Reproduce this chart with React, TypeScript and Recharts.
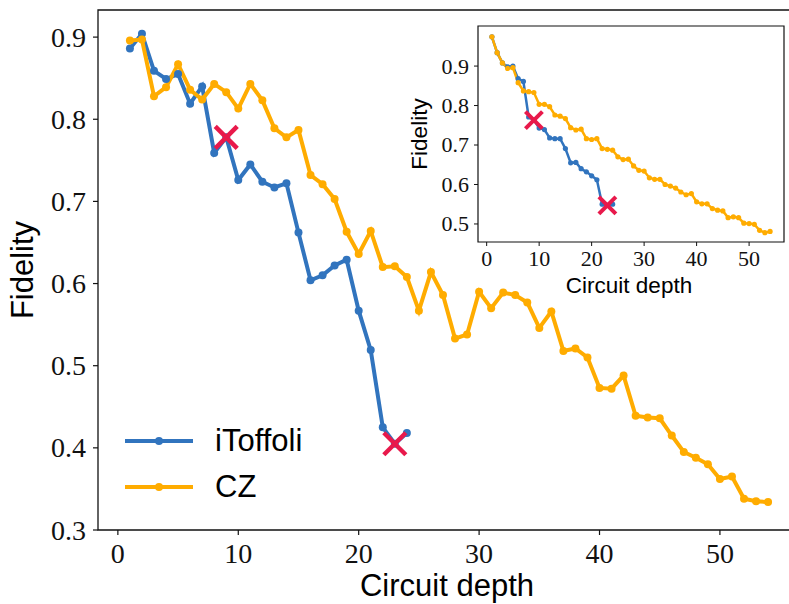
import { ComposedChart, Line, Scatter, XAxis, YAxis, ReferenceArea } from "recharts";

// circuit depth on the x axis
const depth = [
  1, 2, 3, 4, 5, 6, 7, 8, 9, 10, 11, 12, 13, 14, 15, 16, 17, 18, 19, 20,
  21, 22, 23, 24, 25, 26, 27, 28, 29, 30, 31, 32, 33, 34, 35, 36, 37, 38, 39, 40,
  41, 42, 43, 44, 45, 46, 47, 48, 49, 50, 51, 52, 53, 54,
];

// measured fidelity (hardware)
const itoffoliHw = [
  0.886, 0.904, 0.859, 0.849, 0.855, 0.819, 0.84, 0.759, 0.778, 0.726,
  0.745, 0.724, 0.717, 0.722, 0.662, 0.604, 0.61, 0.622, 0.629, 0.567,
  0.519, 0.425, 0.405, 0.418,
];
const czHw = [
  0.896, 0.897, 0.828, 0.839, 0.867, 0.836, 0.824, 0.843, 0.833, 0.813,
  0.843, 0.823, 0.789, 0.778, 0.787, 0.732, 0.721, 0.703, 0.663, 0.636,
  0.664, 0.62, 0.621, 0.608, 0.567, 0.614, 0.586, 0.533, 0.538, 0.59,
  0.57, 0.589, 0.586, 0.577, 0.546, 0.566, 0.518, 0.521, 0.51, 0.473,
  0.472, 0.488, 0.439, 0.437, 0.436, 0.415, 0.395, 0.388, 0.38, 0.362,
  0.365, 0.338, 0.335, 0.334,
];

// classical simulation
const itoffoliSim = [
  0.974, 0.934, 0.908, 0.898, 0.9, 0.868, 0.861, 0.771, 0.763, 0.743,
  0.739, 0.718, 0.716, 0.716, 0.691, 0.655, 0.656, 0.64, 0.632, 0.622,
  0.612, 0.55, 0.547, 0.55,
];
const czSim = [
  0.974, 0.934, 0.908, 0.894, 0.896, 0.858, 0.837, 0.835, 0.833, 0.803,
  0.803, 0.797, 0.776, 0.773, 0.767, 0.744, 0.738, 0.74, 0.716, 0.714,
  0.716, 0.691, 0.689, 0.687, 0.67, 0.663, 0.664, 0.647, 0.636, 0.634,
  0.617, 0.613, 0.613, 0.6, 0.596, 0.591, 0.581, 0.574, 0.577, 0.556,
  0.551, 0.551, 0.539, 0.535, 0.533, 0.516, 0.518, 0.516, 0.502, 0.501,
  0.499, 0.484, 0.478, 0.481,
];

// crossover markers
const markDepth = [9, 23];
const markHw = [0.778, 0.405];
const markSim = [0.763, 0.547];

const seriesNames = ["iToffoli", "CZ"];
const xTicks = [0, 10, 20, 30, 40, 50];
const yTicksMain = [0.3, 0.4, 0.5, 0.6, 0.7, 0.8, 0.9];
const yTicksInset = [0.5, 0.6, 0.7, 0.8, 0.9];

const BLUE = "#3174be";
const ORANGE = "#ffac00";
const RED = "#e8194b";
const SERIF = "Liberation Serif";
const SANS = "Liberation Sans";

const X_DOMAIN: [number, number] = [-1.65, 56.65];
const MAIN_Y: [number, number] = [0.3, 0.933];
const INSET_Y: [number, number] = [0.4543, 1.0015];

const hwRows = depth.map((d, i) => ({ depth: d, itoffoli: itoffoliHw[i] ?? null, cz: czHw[i] }));
const simRows = depth.map((d, i) => ({ depth: d, itoffoli: itoffoliSim[i] ?? null, cz: czSim[i] }));
const hwMarks = markDepth.map((d, i) => ({ depth: d, fidelity: markHw[i] }));
const simMarks = markDepth.map((d, i) => ({ depth: d, fidelity: markSim[i] }));

const cross = (half: number, w: number) => (props: any) => {
  const { cx, cy } = props;
  return (
    <g stroke={RED} strokeWidth={w}>
      <line x1={cx - half} y1={cy - half} x2={cx + half} y2={cy + half} />
      <line x1={cx - half} y1={cy + half} x2={cx + half} y2={cy - half} />
    </g>
  );
};

// serif tick text, drawn by hand so the font sticks
const serifTick = (size: number, axis: "x" | "y") => (props: any) => {
  const { x, y, textAnchor, payload } = props;
  const v = payload.value as number;
  const label = axis === "y" ? v.toFixed(1) : String(v);
  return (
    <text
      x={x}
      y={y}
      dy={axis === "x" ? "0.71em" : "0.34em"}
      textAnchor={textAnchor}
      fontFamily={SERIF}
      fontSize={size}
      fill="#111"
    >
      {label}
    </text>
  );
};

function MainChart() {
  return (
    <ComposedChart width={810} height={604} data={hwRows} margin={{ top: 10, right: 10, left: 0, bottom: 0 }}>
      <ReferenceArea x1={X_DOMAIN[0]} x2={X_DOMAIN[1]} y1={MAIN_Y[0]} y2={MAIN_Y[1]} fill="none" stroke="#111" strokeWidth={1.3} ifOverflow="visible" />
      <XAxis
        dataKey="depth"
        type="number"
        domain={X_DOMAIN}
        ticks={xTicks}
        allowDataOverflow
        height={74}
        tickSize={5}
        tickMargin={8}
        axisLine={false}
        tickLine={{ stroke: "#111", strokeWidth: 1.2 }}
        tick={serifTick(28, "x")}
        label={{
          value: "Circuit depth",
          content: () => (
            <text x={447} y={596} textAnchor="middle" fontFamily={SANS} fontSize={31} fill="#000">
              Circuit depth
            </text>
          ),
        }}
      />
      <YAxis
        type="number"
        domain={MAIN_Y}
        ticks={yTicksMain}
        allowDataOverflow
        width={98}
        tickSize={5}
        tickMargin={7}
        axisLine={false}
        tickLine={{ stroke: "#111", strokeWidth: 1.2 }}
        tick={serifTick(28, "y")}
        label={{
          value: "Fidelity",
          content: () => (
            <text x={33} y={270} transform="rotate(-90 33 270)" textAnchor="middle" fontFamily={SANS} fontSize={31} fill="#000">
              Fidelity
            </text>
          ),
        }}
      />
      <Line dataKey="itoffoli" stroke={BLUE} strokeWidth={4} dot={{ r: 4, fill: BLUE, stroke: "none" }} isAnimationActive={false} />
      <Line dataKey="cz" stroke={ORANGE} strokeWidth={4} dot={{ r: 4, fill: ORANGE, stroke: "none" }} isAnimationActive={false} />
      <Scatter data={hwMarks} dataKey="fidelity" shape={cross(11, 4.5)} isAnimationActive={false} />
    </ComposedChart>
  );
}

function InsetChart() {
  return (
    <ComposedChart width={394} height={300} data={simRows} margin={{ top: 26, right: 10, left: 0, bottom: 0 }}>
      <ReferenceArea x1={X_DOMAIN[0]} x2={X_DOMAIN[1]} y1={INSET_Y[0]} y2={INSET_Y[1]} fill="#fff" fillOpacity={1} stroke="#111" strokeWidth={1.2} ifOverflow="visible" />
      <XAxis
        dataKey="depth"
        type="number"
        domain={X_DOMAIN}
        ticks={xTicks}
        allowDataOverflow
        height={58}
        tickSize={4}
        tickMargin={4}
        axisLine={false}
        tickLine={{ stroke: "#111", strokeWidth: 1 }}
        tick={serifTick(22, "x")}
        label={{
          value: "Circuit depth",
          content: () => (
            <text x={229} y={293} textAnchor="middle" fontFamily={SANS} fontSize={22.5} fill="#000">
              Circuit depth
            </text>
          ),
        }}
      />
      <YAxis
        type="number"
        domain={INSET_Y}
        ticks={yTicksInset}
        allowDataOverflow
        width={78}
        tickSize={4}
        tickMargin={5}
        axisLine={false}
        tickLine={{ stroke: "#111", strokeWidth: 1 }}
        tick={serifTick(22, "y")}
        label={{
          value: "Fidelity",
          content: () => (
            <text x={27} y={134} transform="rotate(-90 27 134)" textAnchor="middle" fontFamily={SANS} fontSize={22.5} fill="#000">
              Fidelity
            </text>
          ),
        }}
      />
      <Line dataKey="itoffoli" stroke={BLUE} strokeWidth={2.5} dot={{ r: 2.6, fill: BLUE, stroke: "none" }} isAnimationActive={false} />
      <Line dataKey="cz" stroke={ORANGE} strokeWidth={2.5} dot={{ r: 2.6, fill: ORANGE, stroke: "none" }} isAnimationActive={false} />
      <Scatter data={simMarks} dataKey="fidelity" shape={cross(8.5, 4)} isAnimationActive={false} />
      <text x={373} y={54} textAnchor="end" fontFamily={SANS} fontSize={23.5} fill="#000">
        Classical simulation
      </text>
    </ComposedChart>
  );
}

function LegendBox() {
  const colors = [BLUE, ORANGE];
  return (
    <div style={{ position: "absolute", left: 120, top: 418 }}>
      {seriesNames.map((name, i) => (
        <div key={name} style={{ display: "flex", alignItems: "center", height: 46 }}>
          <svg width={78} height={20} style={{ marginRight: 17 }}>
            <line x1={5} y1={10} x2={73} y2={10} stroke={colors[i]} strokeWidth={4} />
            <circle cx={39} cy={10} r={4} fill={colors[i]} />
          </svg>
          <span style={{ fontFamily: SANS, fontSize: 31, color: "#000", lineHeight: "46px" }}>{name}</span>
        </div>
      ))}
    </div>
  );
}

export default function App() {
  return (
    <div style={{ position: "absolute", left: 0, top: 0, width: 789, height: 604, overflow: "hidden", background: "#fff" }}>
      <div style={{ position: "absolute", left: 0, top: 0 }}>
        <MainChart />
      </div>
      <LegendBox />
      <div style={{ position: "absolute", left: 400, top: 0 }}>
        <InsetChart />
      </div>
    </div>
  );
}
